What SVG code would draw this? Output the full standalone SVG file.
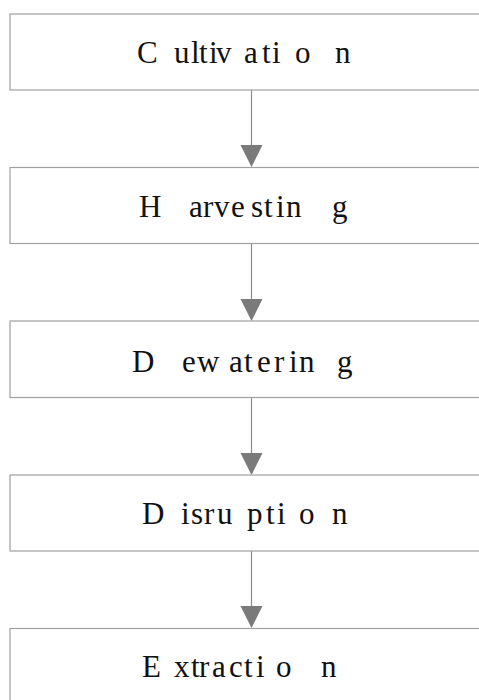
<svg xmlns="http://www.w3.org/2000/svg" width="479" height="700" viewBox="0 0 479 700">
<style>
.box{fill:#fff;stroke:#a0a0a0;stroke-width:1.2}
.lbl{font-family:'Liberation Serif',serif;font-size:31px;fill:#111}
.edge{stroke:#8a8a8a;stroke-width:1.2;fill:none}
.head{fill:#7a7a7a}
</style>
<rect width="479" height="700" fill="#fff"/>
<g id="connectors">
<line class="edge" x1="251.5" y1="90" x2="251.5" y2="146"/><polygon class="head" points="240.5,145 262.5,145 251.5,167"/>
<line class="edge" x1="251.5" y1="244" x2="251.5" y2="300"/><polygon class="head" points="240.5,299 262.5,299 251.5,321"/>
<line class="edge" x1="251.5" y1="398" x2="251.5" y2="454"/><polygon class="head" points="240.5,453 262.5,453 251.5,475"/>
<line class="edge" x1="251.5" y1="551" x2="251.5" y2="607"/><polygon class="head" points="240.5,606 262.5,606 251.5,628"/>
</g>
<g id="cultivation"><rect class="box" x="10" y="14" width="480" height="76"/><text class="lbl" font-family="Liberation Serif" font-size="31" x="137 174 191 199 209 216 244 262 272 295 335" y="62.5">Cultivation</text></g>
<g id="harvesting"><rect class="box" x="10" y="167.5" width="480" height="76"/><text class="lbl" font-family="Liberation Serif" font-size="31" x="139 189 203 214 231 251 264 276 286 332" y="216.5">Harvesting</text></g>
<g id="dewatering"><rect class="box" x="10" y="321" width="480" height="76.5"/><text class="lbl" font-family="Liberation Serif" font-size="31" x="132 182 197 229 244 257 274 289 299 337" y="372">Dewatering</text></g>
<g id="disruption"><rect class="box" x="10" y="475" width="480" height="76"/><text class="lbl" font-family="Liberation Serif" font-size="31" x="142 181 191 204 217 247 266 277 299 332" y="523.5">Disruption</text></g>
<g id="extraction"><rect class="box" x="10" y="628.5" width="480" height="76"/><text class="lbl" font-family="Liberation Serif" font-size="31" x="142 174 191 199 212 229 244 256 276 321" y="676.5">Extraction</text></g>
</svg>
